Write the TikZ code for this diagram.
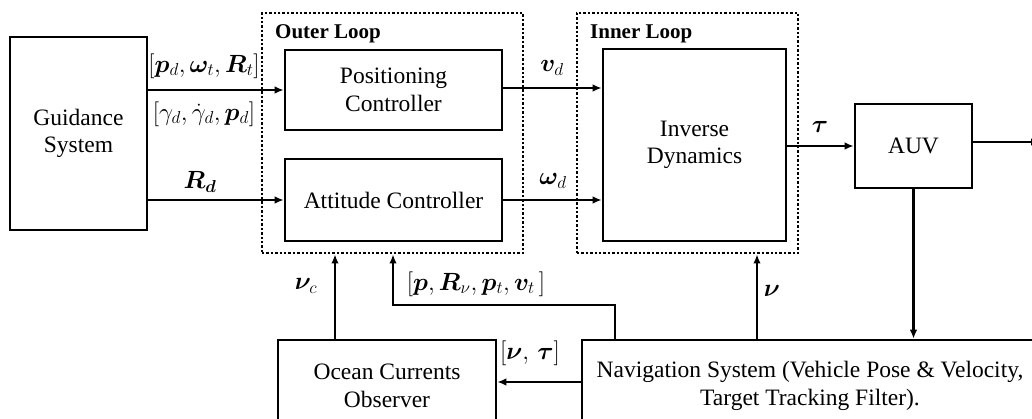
\documentclass[tikz,border=0pt]{standalone}
\usepackage{amsmath,bm}
\usepackage{fontspec}
\setmainfont{Liberation Serif}
\usetikzlibrary{arrows.meta,calc}
\tikzset{
  blk/.style={draw,line width=2.6pt,align=center,inner sep=0pt,font=\fontsize{23.5}{27.5}\selectfont},
  loopbox/.style={draw,line width=2.8pt,dash pattern=on 2.4pt off 2pt,inner sep=0pt},
  arr/.style={line width=2.4pt,-{Latex[length=9pt,width=7.5pt]}},
  lab/.style={font=\fontsize{23.5}{26}\selectfont,inner sep=0pt},
  ttl/.style={font=\fontsize{21}{24}\selectfont\bfseries,inner sep=0pt,anchor=west}
}
\begin{document}
\begin{tikzpicture}[x=1pt,y=-1pt]
\useasboundingbox (0,0) rectangle (1032,419);
\clip (0,0) rectangle (1032,419);
% loop frames
\node[loopbox,minimum width=261pt,minimum height=240pt] (outer) at (392.5,133) {};
\node[loopbox,minimum width=221pt,minimum height=240pt] (inner) at (687.5,133) {};
\node[ttl] (outert) at (275,34) {Outer Loop};
\node[ttl] (innert) at (590,34) {Inner Loop};
% blocks
\node[blk,minimum width=137pt,minimum height=193pt] (guid) at (78.5,133.5) {Guidance\\System};
\node[blk,minimum width=217pt,minimum height=80pt] (pos) at (393.5,90) {Positioning\\Controller};
\node[blk,minimum width=217pt,minimum height=82pt] (att) at (393.5,200) {Attitude Controller};
\node[blk,minimum width=183pt,minimum height=192pt] (inv) at (694.5,145) {Inverse\\Dynamics};
\node[blk,minimum width=117pt,minimum height=84pt] (auv) at (913.5,146) {AUV};
\node[blk,minimum width=456pt,minimum height=92pt] (nav) at (810,386) {Navigation System (Vehicle Pose \& Velocity,\\Target Tracking Filter).};
\node[blk,minimum width=218pt,minimum height=92pt] (ocean) at (387,386) {Ocean Currents\\Observer};
% coordinates
\coordinate (out) at (1040,142);
\coordinate (nu) at (757,0);
\coordinate (nc) at (335,0);
\coordinate (fbx) at (615,0);
\coordinate (fbin) at (393,0);
\coordinate (fby) at (0,305);
\coordinate (nt) at (0,382);
% connectors
\draw[arr] (guid.east |- pos.west) -- (pos.west);
\draw[arr] (guid.east |- att.west) -- (att.west);
\draw[arr] (pos.east |- 0,88) -- (inv.west |- 0,88);
\draw[arr] (att.east) -- (att.east -| inv.west);
\draw[arr] (inv.east |- auv.west) -- (auv.west);
\draw[arr] (auv.east |- out) -- (out);
\draw[arr] (auv.south) -- (auv.south |- nav.north);
\draw[arr] (nu |- nav.north) -- (nu |- inner.south);
\draw[arr] (nc |- ocean.north) -- (nc |- outer.south);
\draw[arr] (fbx |- nav.north) -- (fbx |- fby) -- (fbin |- fby) -- (fbin |- outer.south);
\draw[arr] (nav.west |- nt) -- (ocean.east |- nt);
% labels
\node[lab] (l1) at (204,66) {$[\bm{p}_d,\bm{\omega}_t,\bm{R}_t]$};
\node[lab] (l2) at (204,114) {$[\gamma_d,\dot{\gamma}_d,\bm{p}_d]$};
\node[lab] (l3) at (200,182) {$\bm{R_d}$};
\node[lab] (l4) at (552,68) {$\bm{v}_d$};
\node[lab] (l5) at (553,181) {$\bm{\omega}_d$};
\node[lab] (l6) at (820,127) {$\bm{\tau}$};
\node[lab] (l7) at (306,286) {$\bm{\nu}_c$};
\node[lab] (l8) at (476,284) {$[\bm{p},\bm{R}_\nu,\bm{p}_t,\bm{v}_t\,]$};
\node[lab] (l9) at (772,291) {$\bm{\nu}$};
\node[lab] (l10) at (530,353) {$[\bm{\nu},\,\bm{\tau}]$};
\end{tikzpicture}
\end{document}
